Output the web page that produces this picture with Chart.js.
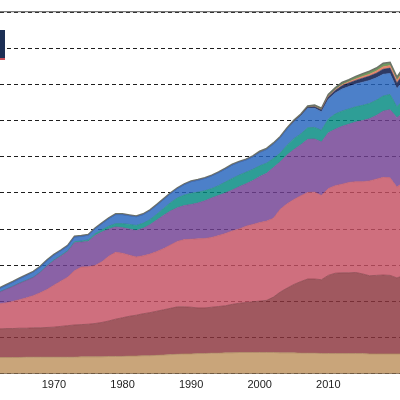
<!DOCTYPE html>
<html>
<head>
<meta charset="utf-8">
<script src="https://cdn.jsdelivr.net/npm/chart.js@4/dist/chart.umd.min.js"></script>
<style>
  html, body { margin: 0; padding: 0; background: #fff; }
  #wrap { position: relative; width: 400px; height: 400px; overflow: hidden; }
  #swatch { position: absolute; left: 0; top: 30px; width: 5px; height: 28px; background: #1c2f55; border-bottom: 2px solid #c8505a; }
</style>
</head>
<body>
<div id="wrap">
  <canvas id="areaChart"></canvas>
  <div id="swatch"></div>
</div>
<script>
// ---------------- data ----------------

const years = [
  1962, 1963, 1964, 1965, 1966, 1967, 1968, 1969, 1970,
  1971, 1972, 1973, 1974, 1975, 1976, 1977, 1978, 1979, 1980,
  1981, 1982, 1983, 1984, 1985, 1986, 1987, 1988, 1989, 1990,
  1991, 1992, 1993, 1994, 1995, 1996, 1997, 1998, 1999, 2000,
  2001, 2002, 2003, 2004, 2005, 2006, 2007, 2008, 2009, 2010,
  2011, 2012, 2013, 2014, 2015, 2016, 2017, 2018, 2019, 2020, 2021
];

// layer thickness per year, bottom to top
const tanLayer = [
  0.45, 0.45, 0.45, 0.45, 0.46, 0.46, 0.46, 0.46, 0.46,
  0.46, 0.46, 0.46, 0.47, 0.47, 0.47, 0.47, 0.48, 0.48, 0.48,
  0.49, 0.49, 0.50, 0.50, 0.51, 0.52, 0.53, 0.54, 0.55, 0.55,
  0.56, 0.56, 0.57, 0.57, 0.58, 0.58, 0.59, 0.59, 0.59, 0.59,
  0.59, 0.59, 0.58, 0.58, 0.58, 0.57, 0.57, 0.57, 0.56, 0.56,
  0.56, 0.56, 0.56, 0.56, 0.56, 0.55, 0.55, 0.55, 0.55, 0.55, 0.55
];

const maroonLayer = [
  0.79, 0.80, 0.80, 0.81, 0.80, 0.81, 0.81, 0.82, 0.83,
  0.85, 0.87, 0.89, 0.89, 0.90, 0.92, 0.95, 0.98, 1.03, 1.07,
  1.10, 1.13, 1.16, 1.19, 1.22, 1.25, 1.28, 1.31, 1.30, 1.29,
  1.26, 1.26, 1.27, 1.29, 1.30, 1.34, 1.36, 1.38, 1.40, 1.42,
  1.44, 1.53, 1.68, 1.79, 1.89, 1.98, 2.05, 2.05, 2.04, 2.16,
  2.22, 2.23, 2.23, 2.24, 2.20, 2.16, 2.17, 2.18, 2.17, 2.10, 2.17
];

const pinkLayer = [
  0.69, 0.71, 0.75, 0.79, 0.84, 0.89, 0.97, 1.05, 1.16,
  1.25, 1.34, 1.50, 1.59, 1.59, 1.60, 1.68, 1.79, 1.85, 1.78,
  1.69, 1.61, 1.60, 1.62, 1.65, 1.69, 1.75, 1.81, 1.86, 1.88,
  1.91, 1.92, 1.93, 1.96, 2.00, 2.03, 2.05, 2.11, 2.14, 2.17,
  2.19, 2.18, 2.29, 2.33, 2.35, 2.37, 2.39, 2.40, 2.33, 2.40,
  2.42, 2.45, 2.50, 2.51, 2.55, 2.62, 2.66, 2.70, 2.70, 2.51, 2.58
];

const purpleLayer = [
  0.32, 0.37, 0.41, 0.45, 0.48, 0.50, 0.56, 0.65, 0.68,
  0.69, 0.71, 0.77, 0.69, 0.70, 0.83, 0.82, 0.75, 0.70, 0.71,
  0.72, 0.73, 0.76, 0.81, 0.87, 0.92, 0.94, 0.93, 0.94, 0.96,
  0.99, 1.04, 1.09, 1.11, 1.12, 1.13, 1.17, 1.17, 1.21, 1.27,
  1.32, 1.40, 1.31, 1.35, 1.38, 1.41, 1.47, 1.47, 1.48, 1.54,
  1.56, 1.60, 1.61, 1.65, 1.69, 1.72, 1.76, 1.83, 1.88, 1.92, 1.92
];

const tealLayer = [
  0.01, 0.01, 0.01, 0.01, 0.01, 0.01, 0.01, 0.01, 0.02,
  0.02, 0.02, 0.03, 0.03, 0.04, 0.05, 0.06, 0.08, 0.09, 0.11,
  0.13, 0.14, 0.14, 0.14, 0.16, 0.19, 0.23, 0.27, 0.29, 0.31,
  0.30, 0.28, 0.26, 0.27, 0.30, 0.32, 0.32, 0.32, 0.31, 0.30,
  0.28, 0.25, 0.24, 0.27, 0.30, 0.30, 0.32, 0.32, 0.32, 0.38,
  0.42, 0.42, 0.42, 0.42, 0.42, 0.42, 0.42, 0.42, 0.42, 0.30, 0.36
];

const blueLayer = [
  0.09, 0.10, 0.11, 0.12, 0.13, 0.14, 0.14, 0.14, 0.13,
  0.13, 0.13, 0.13, 0.13, 0.13, 0.14, 0.17, 0.21, 0.25, 0.25,
  0.24, 0.24, 0.24, 0.25, 0.25, 0.25, 0.25, 0.26, 0.29, 0.32,
  0.33, 0.34, 0.35, 0.36, 0.36, 0.37, 0.36, 0.34, 0.35, 0.37,
  0.38, 0.40, 0.43, 0.45, 0.47, 0.50, 0.54, 0.53, 0.51, 0.55,
  0.58, 0.61, 0.62, 0.63, 0.64, 0.64, 0.62, 0.60, 0.58, 0.50, 0.55
];

const navyLayer = [
  0, 0, 0, 0, 0, 0, 0, 0, 0,
  0, 0, 0, 0, 0, 0, 0, 0, 0, 0,
  0, 0, 0, 0, 0, 0, 0, 0, 0, 0,
  0, 0, 0, 0, 0, 0, 0, 0, 0, 0,
  0, 0, 0, 0, 0.01, 0.02, 0.03, 0.04, 0.05, 0.06,
  0.07, 0.09, 0.10, 0.10, 0.11, 0.12, 0.13, 0.14, 0.15, 0.16, 0.17
];

const orangeLayer = [
  0, 0, 0, 0, 0, 0, 0, 0, 0,
  0, 0, 0, 0, 0, 0, 0, 0, 0, 0,
  0, 0, 0, 0, 0, 0, 0, 0, 0, 0,
  0, 0, 0, 0, 0, 0, 0, 0, 0, 0,
  0, 0, 0, 0, 0, 0, 0, 0.01, 0.01, 0.02,
  0.02, 0.03, 0.03, 0.04, 0.05, 0.05, 0.06, 0.07, 0.07, 0.07, 0.08
];

const greenLayer = [
  0.02, 0.02, 0.02, 0.02, 0.02, 0.02, 0.02, 0.02, 0.02,
  0.02, 0.02, 0.02, 0.02, 0.02, 0.02, 0.02, 0.02, 0.02, 0.02,
  0.02, 0.02, 0.02, 0.02, 0.02, 0.02, 0.02, 0.02, 0.02, 0.02,
  0.02, 0.02, 0.02, 0.02, 0.02, 0.02, 0.02, 0.02, 0.02, 0.03,
  0.03, 0.03, 0.03, 0.03, 0.03, 0.03, 0.03, 0.04, 0.04, 0.05,
  0.05, 0.06, 0.06, 0.07, 0.07, 0.08, 0.08, 0.09, 0.09, 0.09, 0.10
];

const xTickYears = [1970, 1980, 1990, 2000, 2010];
const yGridSteps = [0, 1, 2, 3, 4, 5, 6, 7, 8, 9, 10];

// ---------------- chart ----------------

function toPoints(values) {
    return years.map((y, i) => ({ x: y, y: values[i] }));
}

function layer(label, values, fill, line, width) {
    return {
        label: label,
        data: toPoints(values),
        backgroundColor: fill,
        borderColor: line,
        borderWidth: width,
        pointRadius: 0,
        fill: label === "Layer 1" ? "origin" : "-1",
        tension: 0
    };
}

const ctx = document.getElementById("areaChart").getContext("2d");

new Chart(ctx, {
    type: "line",
    data: {
        datasets: [
            layer("Layer 1", tanLayer, "rgba(189,145,93,0.82)", "rgba(170,135,95,0.9)", 0.8),
            layer("Layer 2", maroonLayer, "rgba(139,51,60,0.82)", "rgba(140,70,78,0.9)", 0.8),
            layer("Layer 3", pinkLayer, "rgba(196,79,98,0.82)", "rgba(190,95,110,0.9)", 0.8),
            layer("Layer 4", purpleLayer, "rgba(112,64,146,0.82)", "rgba(120,85,150,0.9)", 0.8),
            layer("Layer 5", tealLayer, "rgba(0,137,127,0.82)", "rgba(40,140,132,0.9)", 0.8),
            layer("Layer 6", blueLayer, "rgba(37,100,189,0.82)", "rgba(70,115,185,0.9)", 0.8),
            layer("Layer 7", navyLayer, "rgba(0,15,66,0.82)", "rgba(35,55,95,0.9)", 0.6),
            layer("Layer 8", orangeLayer, "rgba(226,107,75,0.82)", "rgba(225,125,100,0.9)", 0.6),
            layer("Layer 9", greenLayer, "rgba(78,132,56,0.82)", "#6c7468", 1.6)
        ]
    },
    options: {
        responsive: true,
        maintainAspectRatio: false,
        animation: false,
        layout: {
            padding: { top: 12, left: 0, right: 0, bottom: 3 }
        },
        plugins: {
            legend: { display: false },
            tooltip: { enabled: false }
        },
        scales: {
            x: {
                type: "linear",
                min: 1962.14,
                max: 2020.45,
                grid: { display: false, drawTicks: false },
                border: { display: true, color: "rgba(90,75,60,0.75)", width: 1 },
                afterBuildTicks: axis => {
                    axis.ticks = xTickYears.map(v => ({ value: v }));
                },
                ticks: {
                    padding: 5,
                    maxRotation: 0,
                    autoSkip: false,
                    color: "#222",
                    font: { family: "'Liberation Sans', Arial, sans-serif", size: 11 },
                    callback: value => String(value)
                }
            },
            xTop: {
                type: "linear",
                position: "top",
                min: 1962.14,
                max: 2020.45,
                grid: { display: false, drawTicks: false },
                border: { display: true, color: "#7a7a7a", width: 1.2 },
                ticks: { display: false }
            },
            y: {
                stacked: true,
                min: 0,
                max: 10,
                afterBuildTicks: axis => {
                    axis.ticks = yGridSteps.map(v => ({ value: v }));
                },
                grid: {
                    color: "#1e1e1e",
                    lineWidth: 1,
                    drawTicks: false
                },
                border: { display: false, dash: [4, 3] },
                ticks: { display: false }
            }
        }
    }
});
</script>
</body>
</html>
